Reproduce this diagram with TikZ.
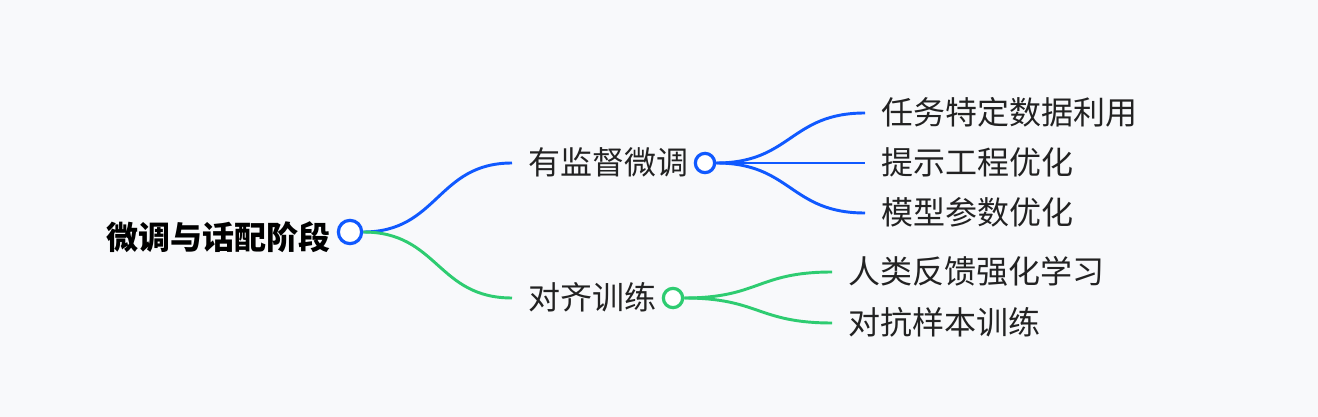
\documentclass[tikz,border=0pt]{standalone}
\usepackage{fontspec}
\setmainfont{Noto Sans CJK SC}
\usetikzlibrary{positioning, calc}
\definecolor{mapblue}{HTML}{1059FF}
\definecolor{mapgreen}{HTML}{2ECC71}
\definecolor{mapbg}{HTML}{F8F9FB}
\definecolor{maptext}{HTML}{222222}

\begin{document}
\begin{tikzpicture}[x=0.75pt, y=-0.75pt,
    roottext/.style={font=\fontsize{24}{28}\selectfont\bfseries, text=black, inner sep=0pt, text height=1.7em, text depth=0.02em},
    leaf/.style={font=\fontsize{24}{28}\selectfont, text=maptext, inner xsep=12.5pt, inner ysep=0pt, text height=1.7em, text depth=0.02em, anchor=west},
    hub/.style={circle, draw=#1, fill=white, line width=2.4pt, inner sep=0pt, minimum size=14.5pt},
    link/.style={draw=#1, line width=2.2pt}
]
\fill[mapbg] (0,0) rectangle (1318,417);

% root
\node[roottext, anchor=east] (roottxt) at (331,238) {微调与话配阶段};
\node[hub=mapblue, minimum size=17.5pt] (root) at (350,232) {};

% first branch
\node[leaf] (sft) at (512,163) {有监督微调};
\node[hub=mapblue] (sfthub) at (705,163) {};
\node[leaf] (taskdata) at (865,113) {任务特定数据利用};
\node[leaf] (prompt) at (865,163) {提示工程优化};
\node[leaf] (params) at (865,213) {模型参数优化};

% second branch
\node[leaf] (align) at (512,298) {对齐训练};
\node[hub=mapgreen] (alignhub) at (673,298) {};
\node[leaf] (rlhf) at (832,272) {人类反馈强化学习};
\node[leaf] (adv) at (832,323) {对抗样本训练};

\draw[link=mapblue] (root.east) .. controls +(75,0) and +(-75,0) .. (sft.west);
\draw[link=mapgreen] (root.east) .. controls +(75,0) and +(-75,0) .. (align.west);
\draw[link=mapblue] (sfthub.east) .. controls +(75,0) and +(-75,0) .. (taskdata.west);
\draw[link=mapblue] (sfthub.east) -- (prompt.west);
\draw[link=mapblue] (sfthub.east) .. controls +(75,0) and +(-75,0) .. (params.west);
\draw[link=mapgreen] (alignhub.east) .. controls +(75,0) and +(-75,0) .. (rlhf.west);
\draw[link=mapgreen] (alignhub.east) .. controls +(75,0) and +(-75,0) .. (adv.west);
\end{tikzpicture}
\end{document}
